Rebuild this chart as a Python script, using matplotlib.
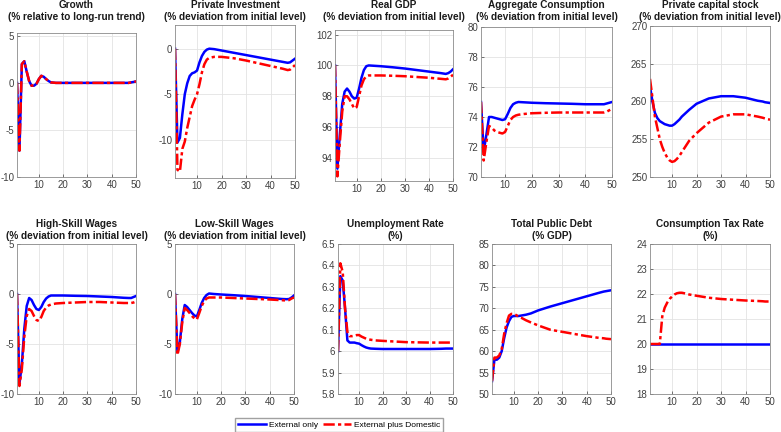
import matplotlib
matplotlib.use('Agg')
import numpy as np
import matplotlib.pyplot as plt

plt.rcParams['font.family'] = ['Liberation Sans', 'DejaVu Sans']

periods = [1, 2, 3, 4, 5, 6, 7, 8, 9, 10, 11, 12, 13, 14, 15, 17, 20, 25, 30, 35, 40, 45, 47, 48, 49, 50]

growth_ext = [0, -7.2, 2.0, 2.3, 1.2, 0.2, -0.3, -0.3, -0.1, 0.4, 0.75, 0.65, 0.4, 0.2, 0.05, 0, 0, 0, 0, 0, 0, 0, 0, 0.05, 0.1, 0.15]
growth_dom = [0, -7.2, 2.0, 2.3, 1.2, 0.2, -0.3, -0.3, -0.1, 0.4, 0.75, 0.65, 0.4, 0.2, 0.05, 0, 0, 0, 0, 0, 0, 0, 0, 0.05, 0.1, 0.15]

invest_ext = [0, -10.3, -9.8, -7.2, -5.0, -3.8, -3.0, -2.7, -2.6, -2.4, -1.5, -0.8, -0.35, -0.1, 0, -0.05, -0.2, -0.45, -0.7, -0.95, -1.2, -1.45, -1.55, -1.5, -1.3, -1.1]
invest_dom = [0, -13.3, -13.5, -11.0, -10.2, -8.7, -7.5, -6.3, -5.6, -5.0, -3.9, -2.6, -1.7, -1.2, -1.0, -0.9, -0.9, -1.05, -1.3, -1.6, -1.9, -2.2, -2.35, -2.3, -2.05, -1.8]

gdp_ext = [100, 93.3, 95.5, 97.5, 98.3, 98.5, 98.3, 98.0, 97.85, 97.9, 98.5, 99.2, 99.7, 99.95, 100.0, 99.98, 99.95, 99.88, 99.8, 99.7, 99.6, 99.5, 99.45, 99.5, 99.6, 99.75]
gdp_dom = [100, 92.8, 95.0, 97.0, 98.0, 98.0, 97.8, 97.5, 97.2, 97.3, 98.0, 98.7, 99.1, 99.3, 99.35, 99.35, 99.35, 99.33, 99.3, 99.25, 99.2, 99.13, 99.1, 99.15, 99.25, 99.4]

cons_ext = [75, 71.7, 72.8, 74.0, 74.0, 73.95, 73.9, 73.85, 73.8, 73.85, 74.2, 74.6, 74.85, 74.95, 75.0, 74.98, 74.95, 74.92, 74.9, 74.88, 74.85, 74.85, 74.85, 74.9, 74.95, 75.0]
cons_dom = [75, 71.1, 72.3, 73.4, 73.3, 73.1, 73.0, 72.95, 72.9, 73.0, 73.4, 73.8, 74.0, 74.1, 74.15, 74.2, 74.25, 74.28, 74.3, 74.3, 74.3, 74.3, 74.3, 74.35, 74.45, 74.55]

capital_ext = [262, 260, 258.5, 257.8, 257.4, 257.2, 257.0, 256.9, 256.8, 256.8, 257.0, 257.3, 257.6, 258.0, 258.3, 258.9, 259.7, 260.4, 260.7, 260.7, 260.5, 260.1, 260.0, 259.9, 259.85, 259.8]
capital_dom = [263, 260.5, 258, 256.5, 255, 254, 253.2, 252.6, 252.2, 252.0, 252.1, 252.4, 252.8, 253.3, 253.8, 254.8, 255.8, 257.2, 258.0, 258.3, 258.3, 258.0, 257.85, 257.75, 257.65, 257.6]

hiwage_ext = [0, -9.0, -7.0, -3.5, -1.2, -0.4, -0.6, -1.1, -1.5, -1.6, -1.3, -0.8, -0.45, -0.25, -0.15, -0.15, -0.15, -0.18, -0.2, -0.25, -0.3, -0.38, -0.4, -0.4, -0.3, -0.2]
hiwage_dom = [0, -9.2, -7.5, -4.3, -2.2, -1.5, -1.7, -2.2, -2.6, -2.7, -2.3, -1.7, -1.35, -1.15, -1.05, -0.95, -0.9, -0.85, -0.8, -0.8, -0.85, -0.9, -0.9, -0.9, -0.85, -0.75]

lowage_ext = [0, -5.8, -4.8, -2.5, -1.1, -1.3, -1.6, -1.9, -2.15, -2.25, -1.6, -0.9, -0.4, -0.1, 0.05, 0.0, -0.05, -0.12, -0.2, -0.3, -0.4, -0.5, -0.52, -0.5, -0.35, -0.15]
lowage_dom = [0, -6.1, -5.0, -2.8, -1.4, -1.6, -1.9, -2.2, -2.45, -2.55, -1.9, -1.2, -0.7, -0.45, -0.35, -0.35, -0.35, -0.4, -0.45, -0.5, -0.55, -0.62, -0.65, -0.6, -0.45, -0.35]

unemp_ext = [6.0, 6.35, 6.33, 6.2, 6.05, 6.04, 6.04, 6.04, 6.037, 6.035, 6.028, 6.022, 6.017, 6.014, 6.012, 6.011, 6.01, 6.01, 6.01, 6.01, 6.01, 6.011, 6.012, 6.012, 6.012, 6.012]
unemp_dom = [6.0, 6.41, 6.37, 6.2, 6.09, 6.07, 6.07, 6.072, 6.075, 6.075, 6.068, 6.063, 6.058, 6.055, 6.053, 6.05, 6.048, 6.045, 6.042, 6.041, 6.04, 6.04, 6.04, 6.04, 6.04, 6.04]

debt_ext = [53, 58, 58, 58.5, 60, 63, 65.5, 67, 68, 68.2, 68.2, 68.2, 68.3, 68.4, 68.5, 68.8, 69.5, 70.4, 71.2, 72.0, 72.8, 73.6, 73.9, 74.0, 74.1, 74.2]
debt_dom = [53, 58.5, 58.5, 59, 60.5, 64, 66.5, 68.3, 68.7, 68.7, 68.4, 68.0, 67.8, 67.5, 67.2, 66.7, 66.0, 65.0, 64.5, 64.0, 63.5, 63.1, 63.0, 62.9, 62.85, 62.8]

tax_ext = [20] * 26
tax_dom = [20, 20, 20, 20, 20, 21.1, 21.45, 21.65, 21.8, 21.9, 21.98, 22.03, 22.05, 22.05, 22.03, 21.98, 21.93, 21.85, 21.8, 21.77, 21.74, 21.72, 21.71, 21.7, 21.7, 21.7]

titles = ['Growth\n(% relative to long-run trend)',
          'Private Investment\n(% deviation from initial level)',
          'Real GDP\n(% deviation from initial level)',
          'Aggregate Consumption\n(% deviation from initial level)',
          'Private capital stock\n(% deviation from initial level)',
          'High-Skill Wages\n(% deviation from initial level)',
          'Low-Skill Wages\n(% deviation from initial level)',
          'Unemployment Rate\n(%)',
          'Total Public Debt\n(% GDP)',
          'Consumption Tax Rate\n(%)']
series = [(growth_ext, growth_dom), (invest_ext, invest_dom), (gdp_ext, gdp_dom),
          (cons_ext, cons_dom), (capital_ext, capital_dom), (hiwage_ext, hiwage_dom),
          (lowage_ext, lowage_dom), (unemp_ext, unemp_dom), (debt_ext, debt_dom),
          (tax_ext, tax_dom)]
ylims = [(-10, 5.3), (-14.2, 2.6), (92.5, 102.3), (70, 80), (250, 270),
         (-10, 5), (-10, 5), (5.8, 6.5), (50, 85), (18, 24)]
yticks = [[-10, -5, 0, 5], [-10, -5, 0], [94, 96, 98, 100, 102], [70, 72, 74, 76, 78, 80],
          [250, 255, 260, 265, 270], [-10, -5, 0, 5], [-10, -5, 0, 5],
          [5.8, 5.9, 6, 6.1, 6.2, 6.3, 6.4, 6.5], [50, 55, 60, 65, 70, 75, 80, 85],
          [18, 19, 20, 21, 22, 23, 24]]

# axes boxes in pixels: left, top, right, bottom
W, H = 781, 432
boxes = [(17, 33, 136, 177), (175, 25, 295, 178), (335, 30, 453, 181), (481, 27, 612, 177),
         (650, 26, 770, 177),
         (17, 244, 136, 394), (175, 244, 294, 394), (338, 244, 453, 394), (492, 244, 611, 394),
         (650, 244, 770, 394)]
title_y = [11, 230]

fig = plt.figure(figsize=(W / 100, H / 100), dpi=100)
lines = None
for i in range(10):
    l, t, r, b = boxes[i]
    ax = fig.add_axes([l / W, 1 - b / H, (r - l) / W, (b - t) / H])
    ext, dom = series[i]
    h1, = ax.plot(periods, ext, color='#0000ff', lw=1.8, label='External only')
    h2, = ax.plot(periods, dom, color='#ff0000', lw=1.8, ls=(0, (4.5, 1.3, 1.3, 1.3)),
                  label='External plus Domestic')
    lines = [h1, h2]
    ax.set_xlim(1, 50)
    ax.set_ylim(*ylims[i])
    ax.set_xticks([10, 20, 30, 40, 50])
    ax.set_yticks(yticks[i])
    ax.set_yticklabels(['%g' % v for v in yticks[i]])
    ax.grid(True, color='#e3e3e3', lw=0.6)
    ax.set_axisbelow(True)
    ax.tick_params(direction='in', length=2, width=0.5, labelsize=7, colors='#404040', pad=2)
    for s in ax.spines.values():
        s.set_color('#8a8a8a')
        s.set_linewidth(0.6)
    fig.text((l + r) / 2 / W, 1 - title_y[i // 5] / H, titles[i], ha='center', va='center',
             fontsize=7.2, fontweight='bold', linespacing=1.25, color='#1a1a1a')

fig.legend(lines, ['External only', 'External plus Domestic'], loc='lower left',
           bbox_to_anchor=(235 / W, 0), ncol=2, fontsize=6, frameon=True, fancybox=False,
           edgecolor='#8a8a8a', handlelength=3.4, columnspacing=0.6, handletextpad=0.3,
           borderpad=0.35, borderaxespad=0)

fig.savefig('out.png', dpi=100)
